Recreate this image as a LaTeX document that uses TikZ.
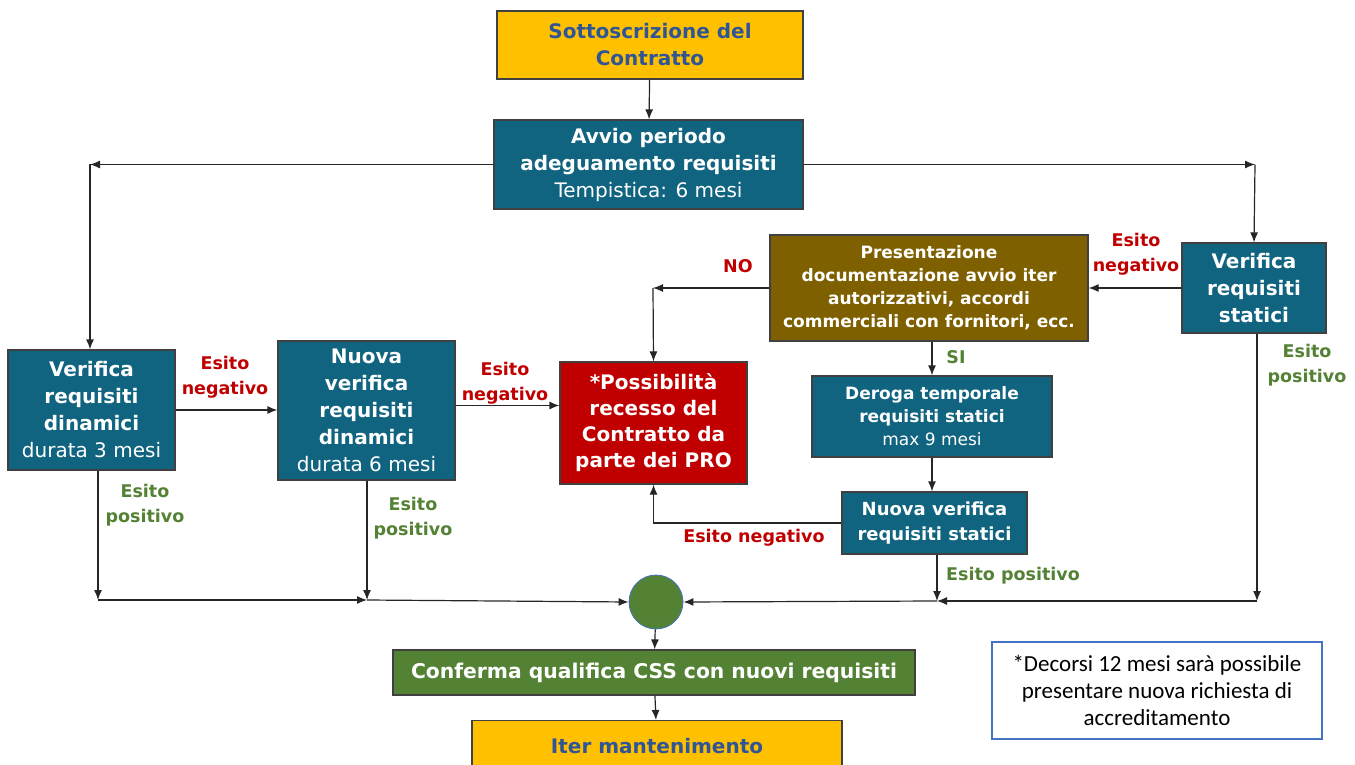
\documentclass[tikz,border=0pt]{standalone}
\usepackage{fontspec}
\usepackage{tikz}
\usetikzlibrary{arrows.meta}
\setmainfont{DejaVu Sans}
\newfontfamily\notefont{Carlito}
\definecolor{gold}{RGB}{255, 192, 0}
\definecolor{titleblue}{RGB}{47, 85, 151}
\definecolor{teal}{RGB}{16, 100, 128}
\definecolor{brown}{RGB}{127, 96, 0}
\definecolor{darkred}{RGB}{192, 0, 0}
\definecolor{okgreen}{RGB}{84, 130, 53}
\definecolor{noteblue}{RGB}{68, 114, 196}
\tikzset{>={Latex[length=10pt,width=8pt]}}
\tikzset{
	box/.style={draw=black!75, line width=1.2pt, align=center, inner sep=2pt, font=\bfseries\fontsize{20}{27}\selectfont},
	tealbox/.style={box, fill=teal, text=white},
	goldbox/.style={box, fill=gold, text=titleblue},
	smallbox/.style={tealbox, font=\bfseries\fontsize{17}{23}\selectfont},
	neglabel/.style={text=darkred, align=center, font=\bfseries\fontsize{17.5}{25}\selectfont},
	poslabel/.style={text=okgreen, align=center, font=\bfseries\fontsize{17.5}{25}\selectfont},
	conn/.style={->, line width=1.2pt, draw=black!85}
}

\begin{document}
\begin{tikzpicture}[x=1pt, y=-1pt]
	\useasboundingbox (0,0) rectangle (1355,765);
	% boxes
	\node[goldbox, minimum width=306, minimum height=68] (sub) at (650,45) {Sottoscrizione del\\Contratto};
	\node[tealbox, minimum width=309, minimum height=89] (avvio) at (648.5,164.5) {Avvio periodo\\adeguamento requisiti\\{\mdseries Tempistica: 6 mesi}};
	\node[tealbox, minimum width=167, minimum height=120] (vdin) at (91.5,410) {Verifica\\requisiti\\dinamici\\{\mdseries durata 3 mesi}};
	\node[tealbox, minimum width=177, minimum height=139] (nvdin) at (366.5,410.5) {Nuova\\verifica\\requisiti\\dinamici\\{\mdseries durata 6 mesi}};
	\node[box, fill=darkred, text=white, minimum width=187, minimum height=122, font=\bfseries\fontsize{20}{26}\selectfont] (recesso) at (653.5,423) {*Possibilità\\recesso del\\Contratto da\\parte dei PRO};
	\node[box, fill=brown, text=white, minimum width=318, minimum height=106, font=\bfseries\fontsize{17}{23}\selectfont] (pres) at (929,288) {Presentazione\\documentazione avvio iter\\autorizzativi, accordi\\commerciali con fornitori, ecc.};
	\node[tealbox, minimum width=144, minimum height=90] (vstat) at (1254,288) {Verifica\\requisiti\\statici};
	\node[smallbox, minimum width=240, minimum height=81] (deroga) at (932,416.5) {Deroga temporale\\requisiti statici\\{\mdseries max 9 mesi}};
	\node[smallbox, minimum width=185, minimum height=62, font=\bfseries\fontsize{18}{25}\selectfont] (nvstat) at (934.5,523) {Nuova verifica\\requisiti statici};
	\node[circle, fill=okgreen, draw=noteblue, line width=0.8pt, minimum size=54, inner sep=0] (join) at (656,602) {};
	\node[box, fill=okgreen, text=white, minimum width=522, minimum height=45, font=\bfseries\fontsize{20.3}{27}\selectfont] (conf) at (654,672.5) {Conferma qualifica CSS con nuovi requisiti};
	\node[goldbox, minimum width=370, minimum height=50, anchor=north] (iter) at (657,720) {Iter mantenimento};
	\node[draw=noteblue, line width=1.2pt, fill=white, minimum width=330, minimum height=97, align=center, font=\notefont\fontsize{23}{27}\selectfont] (note) at (1157,690.5) {*Decorsi 12 mesi sarà possibile\\presentare nuova richiesta di\\accreditamento};
	% corner points
	\coordinate (lt) at (90,164.5);
	\coordinate (rt) at (1255,164.5);
	\coordinate (no) at (653,288);
	\coordinate (ll) at (98,600);
	\coordinate (ml) at (367,600);
	\coordinate (mr) at (937,601);
	\coordinate (rr) at (1257,601);
	% connectors
	\draw[conn] (sub) -- (avvio);
	\draw[conn] (avvio.west) -- (lt);
	\draw[conn] (lt) -- (lt |- vdin.north);
	\draw[conn] (avvio.east) -- (rt);
	\draw[conn] (rt) -- (vstat.north);
	\draw[conn] (vdin.east) -- (vdin.east -| nvdin.west);
	\draw[conn] ([yshift=5pt]nvdin.east) -- ([yshift=5pt]nvdin.east -| recesso.west);
	\draw[conn] (pres.west) -- (no);
	\draw[conn] (no) -- (recesso.north);
	\draw[conn] (vstat.west) -- (pres.east);
	\draw[conn] (deroga.north |- pres.south) -- (deroga.north);
	\draw[conn] (deroga.south) -- (deroga.south |- nvstat.north);
	\draw[conn] (nvstat.west) -| (recesso.south);
	\draw[conn] (mr |- nvstat.south) -- (mr);
	\draw[conn] (rr |- vstat.south) -- (rr);
	\draw[conn] (rr) -- (mr);
	\draw[conn] (mr) -- (join.east);
	\draw[conn] (ll |- vdin.south) -- (ll);
	\draw[conn] (ml |- nvdin.south) -- (ml);
	\draw[conn] (ll) -- (ml);
	\draw[conn] (ml) -- (join.west);
	\draw[conn] (join) -- (conf);
	\draw[conn] (conf) -- (iter);
	% labels
	\node[neglabel] (n1) at (225,377) {Esito\\negativo};
	\node[neglabel] (n2) at (505,383) {Esito\\negativo};
	\node[neglabel] (n3) at (1136,254) {Esito\\negativo};
	\node[neglabel] (n4) at (738,266) {NO};
	\node[neglabel] (n5) at (754,538) {Esito negativo};
	\node[poslabel] (p1) at (145,505) {Esito\\positivo};
	\node[poslabel] (p2) at (413,518) {Esito\\positivo};
	\node[poslabel] (p3) at (1307,365) {Esito\\positivo};
	\node[poslabel] (p4) at (1013,576) {Esito positivo};
	\node[poslabel] (si) at (956,357) {SI};
\end{tikzpicture}
\end{document}
